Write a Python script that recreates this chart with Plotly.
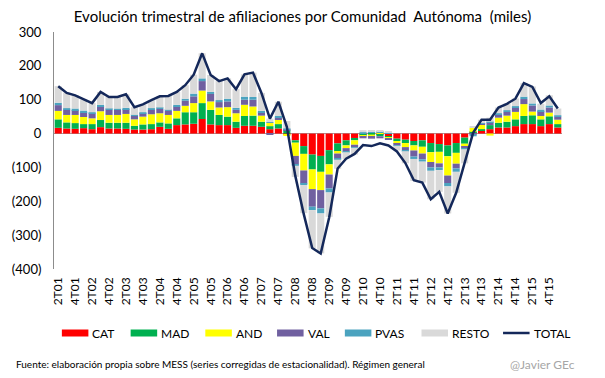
import plotly.graph_objects as go

# ---------------- data ----------------
QUARTERS = [
    "2T01", "3T01", "4T01",
    "1T02", "2T02", "3T02", "4T02",
    "1T03", "2T03", "3T03", "4T03",
    "1T04", "2T04", "3T04", "4T04",
    "1T05", "2T05", "3T05", "4T05",
    "1T06", "2T06", "3T06", "4T06",
    "1T07", "2T07", "3T07", "4T07",
    "1T08", "2T08", "3T08", "4T08",
    "1T09", "2T09", "3T09", "4T09",
    "1T10", "2T10", "3T10", "4T10",
    "1T11", "2T11", "3T11", "4T11",
    "1T12", "2T12", "3T12", "4T12",
    "1T13", "2T13", "3T13", "4T13",
    "1T14", "2T14", "3T14", "4T14",
    "1T15", "2T15", "3T15", "4T15",
    "1T16",
]

CAT = [17, 15, 14, 16, 13, 19, 15, 15, 14, 12,
       12, 13, 20, 14, 25, 27, 29, 43, 27, 25,
       25, 17, 23, 23, 20, 13, 15, -2, -20, -37,
       -62, -66, -49, -29, -20, -13, -4, 2, -3, -8,
       -15, -18, -22, -20, -28, -31, -35, -28, -12, 2,
       8, 13, 18, 18, 22, 28, 28, 22, 28, 18]
MAD = [25, 18, 17, 12, 15, 21, 17, 17, 18, 11,
       15, 15, 13, 16, 20, 36, 34, 47, 43, 30,
       25, 18, 29, 30, 15, 9, 13, 10, -7, -23,
       -44, -47, -42, -25, -15, -7, -3, -3, -5, -4,
       -7, -10, -13, -19, -27, -23, -32, -29, -18, 3,
       5, 12, 14, 17, 20, 24, 26, 20, 23, 10]
AND = [25, 22, 24, 21, 17, 26, 23, 23, 26, 19,
       23, 29, 27, 25, 22, 19, 27, 37, 25, 22,
       28, 25, 33, 27, 18, 10, 14, -5, -39, -49,
       -58, -54, -30, -5, -8, -13, -3, -7, 3, -2,
       -8, -12, -15, -20, -29, -34, -57, -32, -8, 12,
       13, -6, 15, 18, 22, 35, 11, 10, 11, 13]
VAL = [17, 16, 14, 14, 15, 14, 16, 15, 14, 10,
       10, 13, 13, 12, 13, 15, 20, 28, 22, 16,
       17, 10, 15, 20, 10, -3, 5, 2, -26, -39,
       -52, -54, -41, -15, -10, -7, -4, -5, -6, -4,
       -5, -10, -18, -17, -16, -12, -22, -14, -5, -2,
       3, 8, 10, 11, 13, 15, 18, 14, 15, 9]
PVAS = [7, 4, 5, 5, 3, 5, 3, 3, 4, 3,
        3, 5, 4, 3, 5, 6, 8, 8, 6, 6,
        8, 6, 9, 8, 4, 2, 5, 3, -3, -4,
        -10, -15, -12, -3, -2, -2, 4, 3, 2, 4,
        -1, -2, -7, -7, -10, -8, -10, -10, -3, -6,
        2, 2, 3, 5, 4, 7, 6, 5, 6, 4]
RESTO = [49, 46, 40, 33, 27, 38, 34, 35, 40, 23,
         23, 24, 33, 41, 38, 40, 56, 74, 50, 56,
         60, 55, 66, 72, 53, 10, 42, 22, -33, -83,
         -113, -118, -72, -27, -20, -20, 6, 5, 4, 3,
         -14, -36, -65, -62, -84, -64, -80, -62, -42, 3,
         10, 12, 17, 20, 23, 40, 50, 17, 30, 20]
TOTAL = [140, 120, 113, 101, 90, 123, 108, 108, 116, 78,
         86, 99, 110, 111, 123, 143, 174, 237, 173, 155,
         163, 131, 175, 180, 120, 44, 94, 20, -125, -238,
         -338, -354, -248, -103, -74, -60, -34, -37, -29, -35,
         -53, -87, -138, -145, -194, -172, -236, -175, -88, 2,
         41, 41, 77, 88, 103, 149, 138, 90, 110, 74]

SERIES_NAMES = ["CAT", "MAD", "AND", "VAL", "PVAS", "RESTO"]
SERIES_VALUES = [CAT, MAD, AND, VAL, PVAS, RESTO]
TOTAL_NAME = "TOTAL"

Y_TICKS = [-400, -300, -200, -100, 0, 100, 200, 300]
Y_TICK_TEXT = ["(400)", "(300)", "(200)", "(100)", "0", "100", "200", "300"]
X_TICKS = QUARTERS[::2]

TITLE = "Evolución trimestral de afiliaciones por Comunidad  Autónoma  (miles)"
SOURCE = "Fuente: elaboración propia sobre MESS (series corregidas de estacionalidad). Régimen general"
SIGNATURE = "@Javier GEc"

# ---------------- style ----------------
COLORS = ["#FF0000", "#00B050", "#FFFF00", "#7060A0", "#4BA3BF", "#D9D9D9"]
TOTAL_COLOR = "#14285A"
FONT = "Lato, 'Open Sans', sans-serif"

W, H = 605, 378
PL, PR, PT, PB = 45, 562, 32, 269  # plot area in pixels


def px_x(x):
    return (x - PL) / (PR - PL)


def px_y(y):
    return (PB - y) / (PB - PT)


fig = go.Figure()
for name, vals, col in zip(SERIES_NAMES, SERIES_VALUES, COLORS):
    fig.add_trace(go.Bar(x=QUARTERS, y=vals, name=name, marker_color=col,
                         marker_line_width=0))
fig.add_trace(go.Scatter(x=QUARTERS, y=TOTAL, name=TOTAL_NAME, mode="lines",
                         line=dict(color=TOTAL_COLOR, width=2.5)))

# custom legend (wide swatches like the original)
LEG_SWATCH_X = [53, 123, 199, 272, 341, 419, 502]
LEG_Y = 333
shapes = []
annotations = []
for i, name in enumerate(SERIES_NAMES + [TOTAL_NAME]):
    x0 = LEG_SWATCH_X[i]
    x1 = x0 + 27
    if i < len(SERIES_NAMES):
        shapes.append(dict(type="rect", xref="paper", yref="paper",
                           x0=px_x(x0), x1=px_x(x1),
                           y0=px_y(LEG_Y + 3.5), y1=px_y(LEG_Y - 3.5),
                           fillcolor=COLORS[i], line=dict(width=0)))
    else:
        shapes.append(dict(type="line", xref="paper", yref="paper",
                           x0=px_x(x0), x1=px_x(x1),
                           y0=px_y(LEG_Y), y1=px_y(LEG_Y),
                           line=dict(color=TOTAL_COLOR, width=2.5)))
    annotations.append(dict(text=name, xref="paper", yref="paper",
                            x=px_x(x1 + 2), y=px_y(LEG_Y), xanchor="left",
                            yanchor="middle", showarrow=False,
                            font=dict(family=FONT, size=12, color="#000000")))

annotations.append(dict(text=SOURCE, xref="paper", yref="paper",
                        x=px_x(4), y=px_y(364), xanchor="left", yanchor="middle",
                        showarrow=False,
                        font=dict(family=FONT, size=10, color="#000000")))
annotations.append(dict(text=SIGNATURE, xref="paper", yref="paper",
                        x=px_x(577), y=px_y(364), xanchor="right", yanchor="middle",
                        showarrow=False,
                        font=dict(family=FONT, size=12, color="#A6A6A6")))

fig.update_layout(
    width=W, height=H, autosize=False,
    margin=dict(l=PL, r=W - PR, t=PT, b=H - PB, pad=0),
    barmode="relative", bargap=0.16,
    plot_bgcolor="white", paper_bgcolor="white",
    showlegend=False,
    title=dict(text=TITLE, x=0.5, xanchor="center", y=1 - 17 / H, yanchor="middle",
               font=dict(family=FONT, size=15, color="#000000")),
    shapes=shapes, annotations=annotations,
    font=dict(family=FONT, color="#000000"),
)
fig.update_xaxes(type="category", categoryorder="array", categoryarray=QUARTERS,
                 tickmode="array", tickvals=X_TICKS, ticktext=X_TICKS,
                 tickangle=-90, tickfont=dict(family=FONT, size=12, color="#000000"),
                 showgrid=False, showline=False, zeroline=False, ticks="",
                 ticklabelstandoff=5)
fig.update_yaxes(range=[-400, 300], tickmode="array", tickvals=Y_TICKS,
                 ticktext=Y_TICK_TEXT, tickfont=dict(family=FONT, size=13, color="#000000"),
                 showgrid=False, showline=True, linecolor="#8C8C8C", linewidth=1,
                 zeroline=True, zerolinecolor="#A0A0A0", zerolinewidth=1,
                 ticks="", ticklabelstandoff=9)

fig.write_html("out.html", config={"displayModeBar": False},
               post_script="document.body.style.margin='0px';document.body.style.overflow='hidden';")
